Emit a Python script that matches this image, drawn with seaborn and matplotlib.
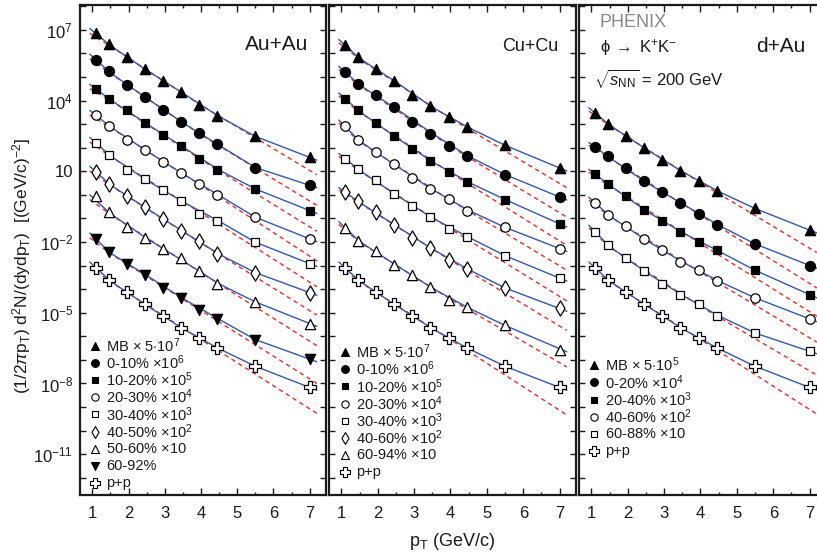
import numpy as np
import seaborn as sns
import matplotlib.pyplot as plt
from matplotlib.ticker import FixedLocator, NullLocator

sns.set_style("ticks")
plt.rcParams['font.family'] = ['Liberation Sans', 'DejaVu Sans']
plt.rcParams['mathtext.fontset'] = 'custom'
plt.rcParams['mathtext.rm'] = 'Liberation Sans'
plt.rcParams['mathtext.it'] = 'Liberation Sans:italic'
plt.rcParams['mathtext.sf'] = 'Liberation Sans'

# pT bins (GeV/c) and knots of the two fit curves
pt = [1.1, 1.45, 1.95, 2.45, 2.95, 3.45, 3.95, 4.45, 5.5, 7.0]
pt_blue = [0.93, 1.5, 2.5, 3.5, 4.5, 5.5, 7.2]
pt_red = [0.93, 1.5, 4.0, 7.2]

# all values are log10 of the (scaled) invariant yield
pp = [-3.09, -3.60, -4.12, -4.64, -5.15, -5.63, -6.07, -6.49, -7.27, -8.14]

auau_mb = [6.86, 6.39, 5.83, 5.33, 4.84, 4.36, 3.82, 3.36, 2.48, 1.59]
auau_0_10 = [5.73, 5.23, 4.64, 4.15, 3.61, 3.09, 2.61, 2.17, 1.14, 0.40]
auau_10_20 = [4.49, 4.08, 3.58, 3.06, 2.55, 2.08, 1.52, 1.07, 0.25, -0.67]
auau_20_30 = [3.37, 2.93, 2.34, 1.90, 1.41, 0.91, 0.46, 0.01, -0.95, -1.87]
auau_30_40 = [2.20, 1.70, 1.07, 0.67, 0.21, -0.25, -0.81, -1.09, -2.01, -2.92]
auau_40_50 = [0.97, 0.47, -0.06, -0.53, -1.01, -1.52, -1.97, -2.52, -3.30, -4.15]
auau_50_60 = [-0.06, -0.74, -1.38, -1.82, -2.28, -2.68, -3.23, -3.77, -4.54, -5.46]
auau_60_92 = [-1.87, -2.42, -2.95, -3.38, -3.95, -4.37, -4.90, -5.25, -6.14, -6.97]

cucu_mb = [6.34, 5.83, 5.33, 4.84, 4.25, 3.75, 3.29, 2.88, 2.10, 1.14]
cucu_0_10 = [5.21, 4.71, 4.22, 3.71, 3.07, 2.59, 2.08, 1.66, 0.86, -0.09]
cucu_10_20 = [4.08, 3.58, 3.06, 2.49, 1.94, 1.42, 0.97, 0.56, -0.20, -1.23]
cucu_20_30 = [2.90, 2.34, 1.83, 1.29, 0.71, 0.26, -0.18, -0.70, -1.38, -2.28]
cucu_30_40 = [1.53, 1.09, 0.61, 0.05, -0.46, -0.94, -1.47, -1.77, -2.58, -3.53]
cucu_40_60 = [0.12, -0.27, -0.74, -1.26, -1.83, -2.25, -2.75, -3.14, -3.95, -4.82]
cucu_60_94 = [-1.40, -1.94, -2.37, -2.99, -3.42, -3.92, -4.44, -4.75, -5.54, -6.56]

dau_mb = [3.47, 3.02, 2.51, 1.99, 1.46, 1.02, 0.57, 0.18, -0.58, -1.50]
dau_0_20 = [2.03, 1.63, 1.14, 0.57, 0.11, -0.34, -0.80, -1.26, -2.08, -3.00]
dau_20_40 = [0.88, 0.46, -0.06, -0.63, -1.12, -1.57, -2.01, -2.36, -3.20, -4.23]
dau_40_60 = [-0.34, -0.84, -1.33, -1.87, -2.34, -2.85, -3.20, -3.64, -4.37, -5.26]
dau_60_88 = [-1.57, -2.14, -2.70, -3.24, -3.78, -4.26, -4.65, -5.15, -5.86, -6.63]

# blue (solid) fit curves, read at pt_blue
auau_blue = [
    [7.05, 6.33, 5.28, 4.31, 3.32, 2.48, 1.47],
    [5.97, 5.17, 4.10, 3.05, 2.10, 1.16, 0.30],
    [4.69, 4.03, 3.01, 2.03, 1.05, 0.25, -0.79],
    [3.58, 2.88, 1.86, 0.88, -0.02, -0.95, -1.99],
    [2.44, 1.65, 0.62, -0.30, -1.12, -2.01, -3.04],
    [1.21, 0.42, -0.58, -1.55, -2.52, -3.30, -4.26],
    [0.00, -0.80, -1.85, -2.80, -3.78, -4.54, -5.58],
    [-1.62, -2.47, -3.42, -4.40, -5.28, -6.14, -7.08],
    [-2.85, -3.66, -4.69, -5.68, -6.53, -7.27, -8.29],
]
cucu_blue = [
    [6.59, 5.78, 4.79, 3.71, 2.85, 2.10, 1.01],
    [5.45, 4.66, 3.66, 2.60, 1.63, 0.86, -0.22],
    [4.32, 3.53, 2.44, 1.40, 0.53, -0.20, -1.37],
    [3.17, 2.28, 1.24, 0.22, -0.66, -1.38, -2.40],
    [1.75, 1.04, 0.00, -0.98, -1.80, -2.58, -3.66],
    [0.31, -0.32, -1.31, -2.30, -3.17, -3.95, -4.94],
    [-1.14, -1.98, -2.98, -3.96, -4.80, -5.54, -6.66],
    [-2.85, -3.66, -4.69, -5.68, -6.53, -7.27, -8.29],
]
dau_blue = [
    [3.69, 2.96, 1.94, 0.98, 0.14, -0.58, -1.62],
    [2.22, 1.58, 0.53, -0.38, -1.29, -2.08, -3.12],
    [1.08, 0.41, -0.68, -1.60, -2.39, -3.20, -4.37],
    [-0.10, -0.89, -1.92, -2.85, -3.66, -4.37, -5.38],
    [-1.29, -2.19, -3.28, -4.26, -5.13, -5.86, -6.74],
    [-2.85, -3.66, -4.69, -5.68, -6.53, -7.27, -8.29],
]

# red (dashed) fit curves, read at pt_red
auau_red = [
    [6.85, 6.30, 3.80, 0.85],
    [5.77, 5.14, 2.54, -0.45],
    [4.50, 4.00, 1.49, -1.55],
    [3.38, 2.85, 0.40, -2.80],
    [2.24, 1.62, -0.77, -3.90],
    [1.01, 0.39, -2.05, -5.10],
    [-0.20, -0.83, -3.30, -6.40],
    [-1.82, -2.50, -4.91, -8.00],
    [-3.05, -3.69, -6.14, -9.27],
]
cucu_red = [
    [6.45, 5.75, 3.24, 0.30],
    [5.32, 4.63, 2.05, -0.95],
    [4.20, 3.50, 0.93, -2.15],
    [3.05, 2.25, -0.23, -3.20],
    [1.63, 1.01, -1.45, -4.50],
    [0.20, -0.35, -2.78, -5.75],
    [-1.26, -2.01, -4.43, -7.30],
    [-3.05, -3.69, -6.14, -9.34],
]
dau_red = [
    [3.55, 2.93, 0.51, -2.45],
    [2.10, 1.55, -0.87, -3.95],
    [0.96, 0.38, -2.07, -5.15],
    [-0.22, -0.92, -3.28, -6.25],
    [-1.40, -2.22, -4.73, -7.65],
    [-3.05, -3.69, -6.14, -9.30],
]

auau_labels = [r"MB $\times$ $5{\cdot}10^{7}$", r"0-10% $\times10^{6}$", r"10-20% $\times10^{5}$",
               r"20-30% $\times10^{4}$", r"30-40% $\times10^{3}$", r"40-50% $\times10^{2}$",
               r"50-60% $\times$10", "60-92%", "p+p"]
cucu_labels = [r"MB $\times$ $5{\cdot}10^{7}$", r"0-10% $\times10^{6}$", r"10-20% $\times10^{5}$",
               r"20-30% $\times10^{4}$", r"30-40% $\times10^{3}$", r"40-60% $\times10^{2}$",
               r"60-94% $\times$10", "p+p"]
dau_labels = [r"MB $\times$ $5{\cdot}10^{5}$", r"0-20% $\times10^{4}$", r"20-40% $\times10^{3}$",
              r"40-60% $\times10^{2}$", r"60-88% $\times$10", "p+p"]

auau_data = [auau_mb, auau_0_10, auau_10_20, auau_20_30, auau_30_40, auau_40_50, auau_50_60, auau_60_92, pp]
cucu_data = [cucu_mb, cucu_0_10, cucu_10_20, cucu_20_30, cucu_30_40, cucu_40_60, cucu_60_94, pp]
dau_data = [dau_mb, dau_0_20, dau_20_40, dau_40_60, dau_60_88, pp]

# marker, filled, size
auau_style = [('^', True, 55), ('o', True, 52), ('s', True, 30), ('o', False, 46), ('s', False, 40),
              ('d', False, 60), ('^', False, 55), ('v', True, 55), ('P', False, 75)]
cucu_style = [('^', True, 55), ('o', True, 52), ('s', True, 30), ('o', False, 46), ('s', False, 40),
              ('d', False, 60), ('^', False, 55), ('P', False, 75)]
dau_style = [('^', True, 55), ('o', True, 52), ('s', True, 30), ('o', False, 46), ('s', False, 40),
             ('P', False, 75)]

BLUE = '#3058ae'
RED = '#ec2b2b'
INK = '#1a1a1a'

fig = plt.figure(figsize=(8.17, 5.55), dpi=100)
bottom, height = 60 / 555, 490 / 555
ax1 = fig.add_axes([80 / 817, bottom, 246 / 817, height])
ax2 = fig.add_axes([329 / 817, bottom, 247 / 817, height])
ax3 = fig.add_axes([579 / 817, bottom, 247 / 817, height])  # right edge runs off the canvas

ROW = 17.2 / 490  # legend row pitch in axes units


def draw_panel(ax, data, blue, red, style, labels, leg_x, leg_y):
    for vals, b, r, (m, filled, s) in zip(data, blue, red, style):
        sns.lineplot(x=pt_red, y=10 ** np.array(r), ax=ax, color=RED, lw=1.0,
                     linestyle=(0, (3.2, 2.6)), estimator=None, sort=False, legend=False, zorder=1)
        sns.lineplot(x=pt_blue, y=10 ** np.array(b), ax=ax, color=BLUE, lw=1.0,
                     estimator=None, sort=False, legend=False, zorder=2)
        sns.scatterplot(x=pt, y=10 ** np.array(vals), ax=ax, marker=m, s=s,
                        color='black' if filled else 'white', edgecolor='black',
                        linewidth=0.9, legend=False, zorder=3)
    ax.set_yscale('log')
    ax.set_xlim(0.66, 7.45)
    ax.set_ylim(10 ** -12.73, 10 ** 8.05)
    ax.set_xlabel('')
    ax.set_ylabel('')

    decades = np.arange(-12, 9)
    ax.yaxis.set_major_locator(FixedLocator(10.0 ** decades))
    ax.yaxis.set_minor_locator(NullLocator())
    ax.xaxis.set_major_locator(FixedLocator([1, 2, 3, 4, 5, 6, 7]))
    ax.xaxis.set_minor_locator(FixedLocator([1.5, 2.5, 3.5, 4.5, 5.5, 6.5]))
    ax.tick_params(axis='both', which='both', direction='in', top=True, right=True,
                   width=1.0, colors=INK, labelcolor=INK)
    ax.tick_params(axis='y', which='major', length=4, pad=5, labelsize=12)
    ax.tick_params(axis='x', which='major', length=5, pad=8, labelsize=12)
    ax.tick_params(axis='x', which='minor', length=2.5)
    for sp in ax.spines.values():
        sp.set_linewidth(1.6)
        sp.set_color(INK)

    # legend, one row per series, laid out by hand for an even row pitch
    for i, ((m, filled, s), lab) in enumerate(zip(style, labels)):
        yy = leg_y - i * ROW
        ax.scatter([leg_x], [yy], transform=ax.transAxes, marker=m, s=s * 0.6,
                   color='black' if filled else 'white', edgecolor='black', linewidth=0.8,
                   clip_on=False, zorder=4)
        ax.text(leg_x + 0.046, yy, lab, transform=ax.transAxes, ha='left', va='center',
                fontsize=10.5, color=INK)


draw_panel(ax1, auau_data, auau_blue, auau_red, auau_style, auau_labels, 0.061, 0.305)
draw_panel(ax2, cucu_data, cucu_blue, cucu_red, cucu_style, cucu_labels, 0.065, 0.292)
draw_panel(ax3, dau_data, dau_blue, dau_red, dau_style, dau_labels, 0.061, 0.265)

ylabels = []
for d in np.arange(-12, 9):
    if d == 1:
        ylabels.append('10')
    elif (d - 1) % 3 == 0:
        ylabels.append(r'$10^{%d}$' % d)
    else:
        ylabels.append('')
ax1.set_yticklabels(ylabels)
ax2.set_yticklabels([])
ax3.set_yticklabels([])

ax1.text(0.93, 0.92, 'Au+Au', transform=ax1.transAxes, ha='right', va='center', fontsize=15, color=INK)
ax2.text(0.93, 0.915, 'Cu+Cu', transform=ax2.transAxes, ha='right', va='center', fontsize=13, color=INK)
ax3.text(0.915, 0.915, 'd+Au', transform=ax3.transAxes, ha='right', va='center', fontsize=15, color=INK)
ax3.text(0.085, 0.964, 'PHENIX', transform=ax3.transAxes, ha='left', va='center', fontsize=13, color='#888888')
ax3.text(0.085, 0.913, r'$\mathrm{\phi} \; \rightarrow \; \mathrm{K^{+}K^{-}}$', transform=ax3.transAxes,
         ha='left', va='center', fontsize=12, color=INK)
ax3.text(0.062, 0.85, r'$\sqrt{s_{\mathrm{NN}}}$ = 200 GeV', transform=ax3.transAxes,
         ha='left', va='center', fontsize=12, color=INK)

fig.text(22 / 817, 1 - 266 / 555, r'(1/2$\pi$p$_{\mathrm{T}}$) d$^{2}$N/(dydp$_{\mathrm{T}}$)  [(GeV/c)$^{-2}$]',
         rotation=90, ha='center', va='center', fontsize=12.5, color=INK)
fig.text(452 / 817, 1 - 541 / 555, r'p$_{\mathrm{T}}$ (GeV/c)', ha='center', va='center',
         fontsize=13, color=INK)

fig.savefig('out.png', dpi=100)
